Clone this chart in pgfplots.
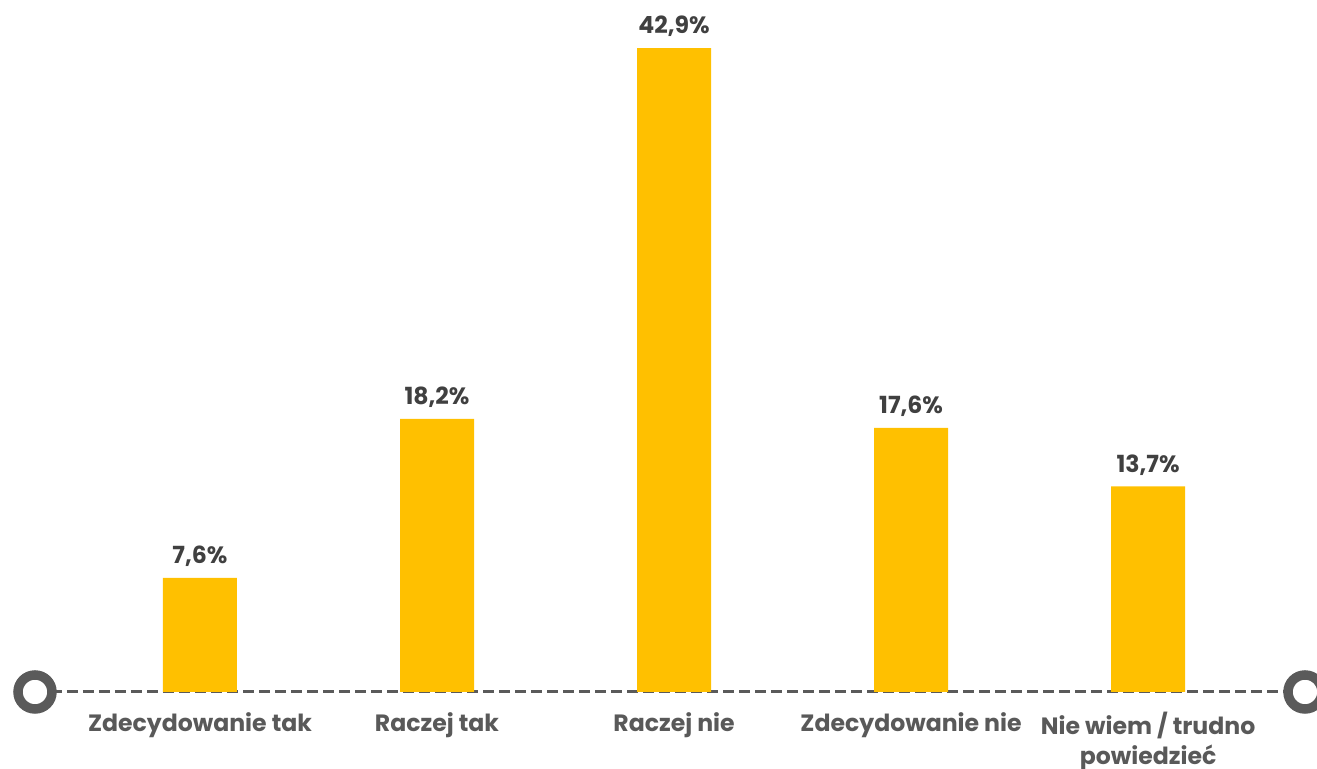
\documentclass[border=0pt]{standalone}
\usepackage{pgfplots}
\pgfplotsset{compat=1.18}
\usepackage{fontspec}
\setmainfont{Poppins}
\definecolor{baryellow}{HTML}{FFC000}
\definecolor{valgray}{HTML}{404040}
\definecolor{catgray}{HTML}{595959}
\definecolor{linegray}{HTML}{5A5A5A}
\begin{document}
\begin{tikzpicture}[x=1pt,y=1pt]
\path[use as bounding box] (0,0) rectangle (658.5,384.5);
\begin{axis}[
  at={(17.5pt,38.5pt)}, anchor=south west,
  scale only axis, width=635pt, height=337.7pt,
  xmin=-0.696, xmax=4.662, ymin=0, ymax=45,
  axis lines=none,
  clip=false,
  xtick=data,
  ytick=\empty,
  /pgf/number format/assume math mode=true,
  ybar, bar width=37pt,
  nodes near coords={\pgfmathprintnumber[fixed,fixed zerofill,precision=1,use comma,assume math mode=true]{\pgfplotspointmeta}\%},
  every node near coord/.append style={font=\bfseries\fontsize{11.8}{14}\selectfont, text=valgray, yshift=2pt},
]
\draw[linegray, line width=1.5pt, dash pattern=on 5.5pt off 2.5pt] (rel axis cs:0,0) -- (rel axis cs:1,0);
\addplot[fill=baryellow, draw=none] coordinates {(0,7.6) (1,18.2) (2,42.9) (3,17.6) (4,13.7)};
\draw[linegray, line width=4.75pt, fill=white] (rel axis cs:0,0) circle[radius=8.5pt];
\draw[linegray, line width=4.75pt, fill=white] (rel axis cs:1,0) circle[radius=8.5pt];
\foreach \i/\lab in {0/{Zdecydowanie tak},1/{Raczej tak},2/{Raczej nie},3/{Zdecydowanie nie},4/{Nie wiem / trudno\\powiedzieć}} {
  \edef\tmp{\noexpand\node[anchor=north, align=center, font=\noexpand\bfseries\noexpand\fontsize{11.8}{14.6}\noexpand\selectfont, text=catgray, inner sep=0pt] at (axis cs:\i,0) [yshift=-10pt] {\unexpanded\expandafter{\lab}};}
  \tmp
}
\end{axis}
\end{tikzpicture}
\end{document}
